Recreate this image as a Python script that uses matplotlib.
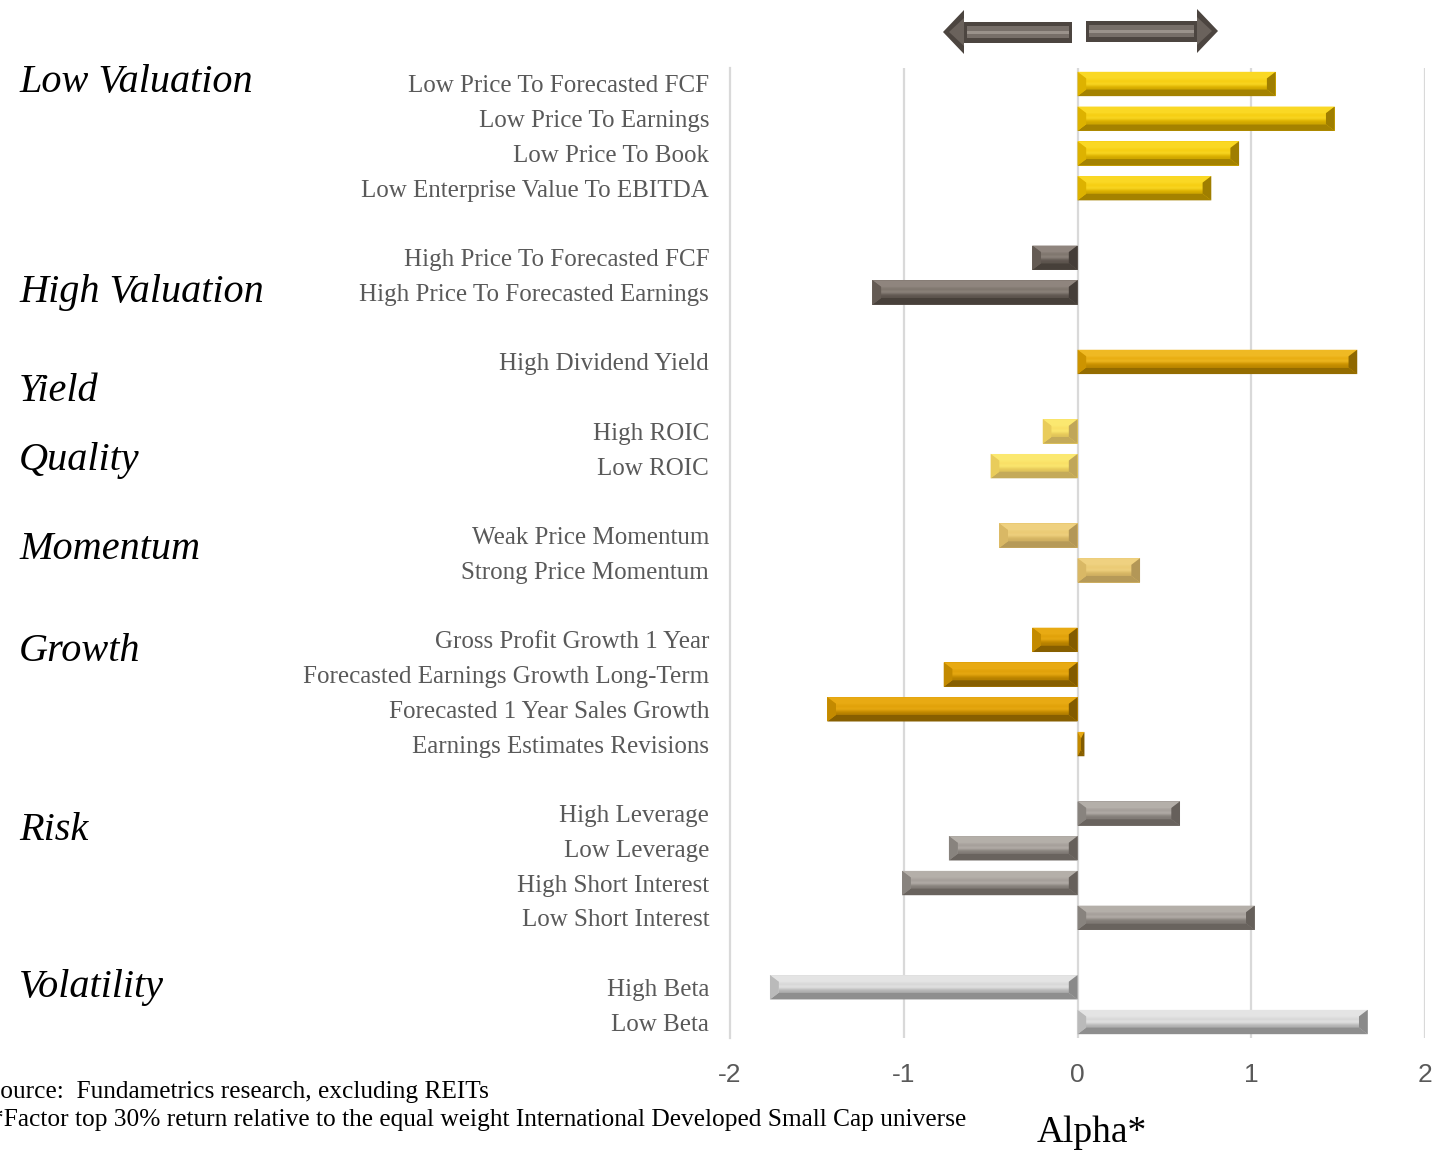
import matplotlib.pyplot as plt
import numpy as np
from matplotlib.colors import to_rgb

# factor names, top to bottom
factors = [
    "Low Price To Forecasted FCF", "Low Price To Earnings", "Low Price To Book",
    "Low Enterprise Value To EBITDA",
    "High Price To Forecasted FCF", "High Price To Forecasted Earnings",
    "High Dividend Yield",
    "High ROIC", "Low ROIC",
    "Weak Price Momentum", "Strong Price Momentum",
    "Gross Profit Growth 1 Year", "Forecasted Earnings Growth Long-Term",
    "Forecasted 1 Year Sales Growth", "Earnings Estimates Revisions",
    "High Leverage", "Low Leverage", "High Short Interest", "Low Short Interest",
    "High Beta", "Low Beta",
]
alpha = [1.14, 1.48, 0.93, 0.77,
         -0.26, -1.18,
         1.61,
         -0.20, -0.50,
         -0.45, 0.36,
         -0.26, -0.77, -1.44, 0.04,
         0.59, -0.74, -1.01, 1.02,
         -1.77, 1.67]
# slot of each factor (gaps between groups)
slots = [0, 1, 2, 3, 5, 6, 8, 10, 11, 13, 14, 16, 17, 18, 19, 21, 22, 23, 24, 26, 27]
group_of = ["lv"] * 4 + ["hv"] * 2 + ["yld"] + ["qual"] * 2 + ["mom"] * 2 + \
           ["gro"] * 4 + ["risk"] * 4 + ["vol"] * 2

groups = ["Low Valuation", "High Valuation", "Yield", "Quality",
          "Momentum", "Growth", "Risk", "Volatility"]
group_slot = [-0.05, 6.0, 8.85, 10.85, 13.4, 16.35, 21.5, 26.0]

# base, highlight, shadow
palette = {
    "lv":   ("#F2C400", "#FFE53C", "#8A6C00"),
    "hv":   ("#6E655E", "#A59B93", "#3A332E"),
    "yld":  ("#E2A200", "#F8C83A", "#7A5A00"),
    "qual": ("#F6D85C", "#FFF27E", "#B39A58"),
    "mom":  ("#E6C36A", "#F5DB8E", "#A68C52"),
    "gro":  ("#D99900", "#F2B620", "#6C4C00"),
    "risk": ("#948E89", "#CAC5BF", "#5A5550"),
    "vol":  ("#CACACA", "#F6F6F6", "#7A7A7A"),
}


def mix(c1, c2, t):
    a, b = np.array(to_rgb(c1)), np.array(to_rgb(c2))
    return tuple(a * (1 - t) + b * t)


fig = plt.figure(figsize=(14.35, 11.52), dpi=100)
W, H = 1435, 1152
ax = fig.add_axes([730 / W, 1 - 1038 / H, 695 / W, 970 / H])

for xv in [-1, 0, 1, 2]:
    ax.axvline(xv, color="#D9D9D9", lw=1.6, zorder=0)
for s in ["top", "right", "bottom"]:
    ax.spines[s].set_visible(False)
ax.spines["left"].set_color("#D9D9D9")
ax.spines["left"].set_linewidth(1.6)

h = 0.35
bx, by = 0.05, 0.19
for y, v, g in zip(slots, alpha, group_of):
    base, light, dark = palette[g]
    ax.barh(y, v, height=2 * h, color=base, zorder=2)
    x0, x1 = min(0, v), max(0, v)
    b = min(bx, (x1 - x0) / 2)
    yt, yb = y - h, y + h
    # face gradient, top to bottom
    stops = [mix(base, light, 0.55), mix(base, light, 0.2), mix(base, light, 0.7),
             mix(base, dark, 0.15), mix(base, dark, 0.35)]
    grad = np.array(stops)[:, None, :]
    ax.imshow(grad, extent=(x0 + b, x1 - b, yb - by, yt + by), origin="upper",
              aspect="auto", interpolation="bicubic", zorder=3)
    ax.fill([x0, x1, x1 - b, x0 + b], [yt, yt, yt + by, yt + by],
            color=mix(base, light, 0.6), lw=0, zorder=3)
    ax.fill([x0, x1, x1 - b, x0 + b], [yb, yb, yb - by, yb - by],
            color=mix(base, dark, 0.75), lw=0, zorder=3)
    ax.fill([x0, x0 + b, x0 + b, x0], [yt, yt + by, yb - by, yb],
            color=mix(base, dark, 0.2), lw=0, zorder=3)
    ax.fill([x1, x1 - b, x1 - b, x1], [yt, yt + by, yb - by, yb],
            color=mix(base, dark, 0.8), lw=0, zorder=3)

ax.set_xlim(-2, 2)
ax.set_ylim(27.46, -0.46)
ax.set_yticks(slots)
ax.set_yticklabels(factors, family="Liberation Serif", fontsize=18, color="#595959")
ax.tick_params(axis="y", length=0, pad=15)
ax.set_xticks([-2, -1, 0, 1, 2])
ax.set_xticklabels(["-2", "-1", "0", "1", "2"], family="Liberation Sans",
                   fontsize=19, color="#595959")
ax.tick_params(axis="x", length=0, pad=18)

# overlay in figure pixel space for titles and arrows
ov = fig.add_axes([0, 0, 1, 1], facecolor="none")
ov.set_xlim(0, W)
ov.set_ylim(H, 0)
ov.axis("off")

y_of_slot = lambda s: 84 + s * 34.74
for name, gs in zip(groups, group_slot):
    ov.text(19, y_of_slot(gs), name, family="Liberation Serif", style="italic",
            fontsize=29, color="black", va="center", ha="left")

ov.text(1092, 1133, "Alpha*", family="Liberation Serif", fontsize=27,
        color="black", ha="center", va="center")
ov.text(-14, 1092, "Source:  Fundametrics research, excluding REITs",
        family="Liberation Serif", fontsize=18.3, color="black", va="center")
ov.text(-9, 1120, "*Factor top 30% return relative to the equal weight International "
        "Developed Small Cap universe", family="Liberation Serif", fontsize=18.3,
        color="black", va="center")


# direction arrows above the chart
def arrow(tip, back, yc, direction):
    d = direction
    head = 21
    hx = tip + d * head
    shaft_top, shaft_bot = yc - 10, yc + 11
    xs = [tip, hx, hx, back, back, hx, hx]
    ys = [yc, yc - 22, shaft_top, shaft_top, shaft_bot, shaft_bot, yc + 22]
    ov.fill(xs, ys, color="#4C4540", lw=0)
    lo, hi = min(hx, back), max(hx, back)
    ov.fill([lo + 3, hi - 3, hi - 3, lo + 3],
            [shaft_top + 4, shaft_top + 4, shaft_bot - 5, shaft_bot - 5],
            color="#776F69", lw=0)
    ov.fill([lo + 3, hi - 3, hi - 3, lo + 3],
            [yc - 1, yc - 1, yc + 2, yc + 2], color="#9A928B", lw=0)
    ov.fill([tip + d * 6, hx, hx], [yc, yc - 14, yc + 14], color="#6A625C", lw=0)


arrow(943, 1072, 32, 1)
arrow(1218, 1086, 31, -1)

fig.savefig("out.png", dpi=100)
